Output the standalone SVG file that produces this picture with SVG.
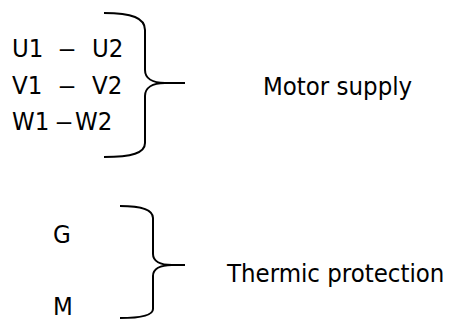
<svg xmlns="http://www.w3.org/2000/svg" width="450" height="320" viewBox="0 0 450 320">
<style>
text{font-family:"DejaVu Sans Condensed","DejaVu Sans",Tahoma,sans-serif;font-size:25.5px;fill:#000}
.brace{fill:none;stroke:#000;stroke-width:2}
</style>
<rect width="450" height="320" fill="#fff"/>
<g id="motor-terminals">
<text x="12" y="57">U1<tspan x="58" textLength="18" lengthAdjust="spacingAndGlyphs">–</tspan><tspan x="92">U2</tspan></text>
<text x="12" y="94">V1<tspan x="58" textLength="18" lengthAdjust="spacingAndGlyphs">–</tspan><tspan x="92">V2</tspan></text>
<text x="12" y="130">W1<tspan x="55" textLength="18" lengthAdjust="spacingAndGlyphs">–</tspan><tspan x="75">W2</tspan></text>
</g>
<g id="thermic-terminals">
<text x="53" y="243">G</text>
<text x="53" y="315">M</text>
</g>
<g id="connectors">
<path class="brace" d="M104,13 C132,13 145,18 145,30 L145,70 C145,78 152,83 165,83 L185,83 M165,83 C152,83 145,88 145,96 L145,143 C145,153 132,157 104,157"/>
<path class="brace" d="M120,206 C142,206 153,210 153,218 L153,254 C153,261 160,265 172,265 L185,265 M172,265 C160,265 153,269 153,276 L153,309 C153,315 142,318 120,318"/>
</g>
<g id="motor-supply">
<text x="263" y="95">Motor supply</text>
</g>
<g id="thermic-protection">
<text x="227" y="282">Thermic protection</text>
</g>
</svg>
